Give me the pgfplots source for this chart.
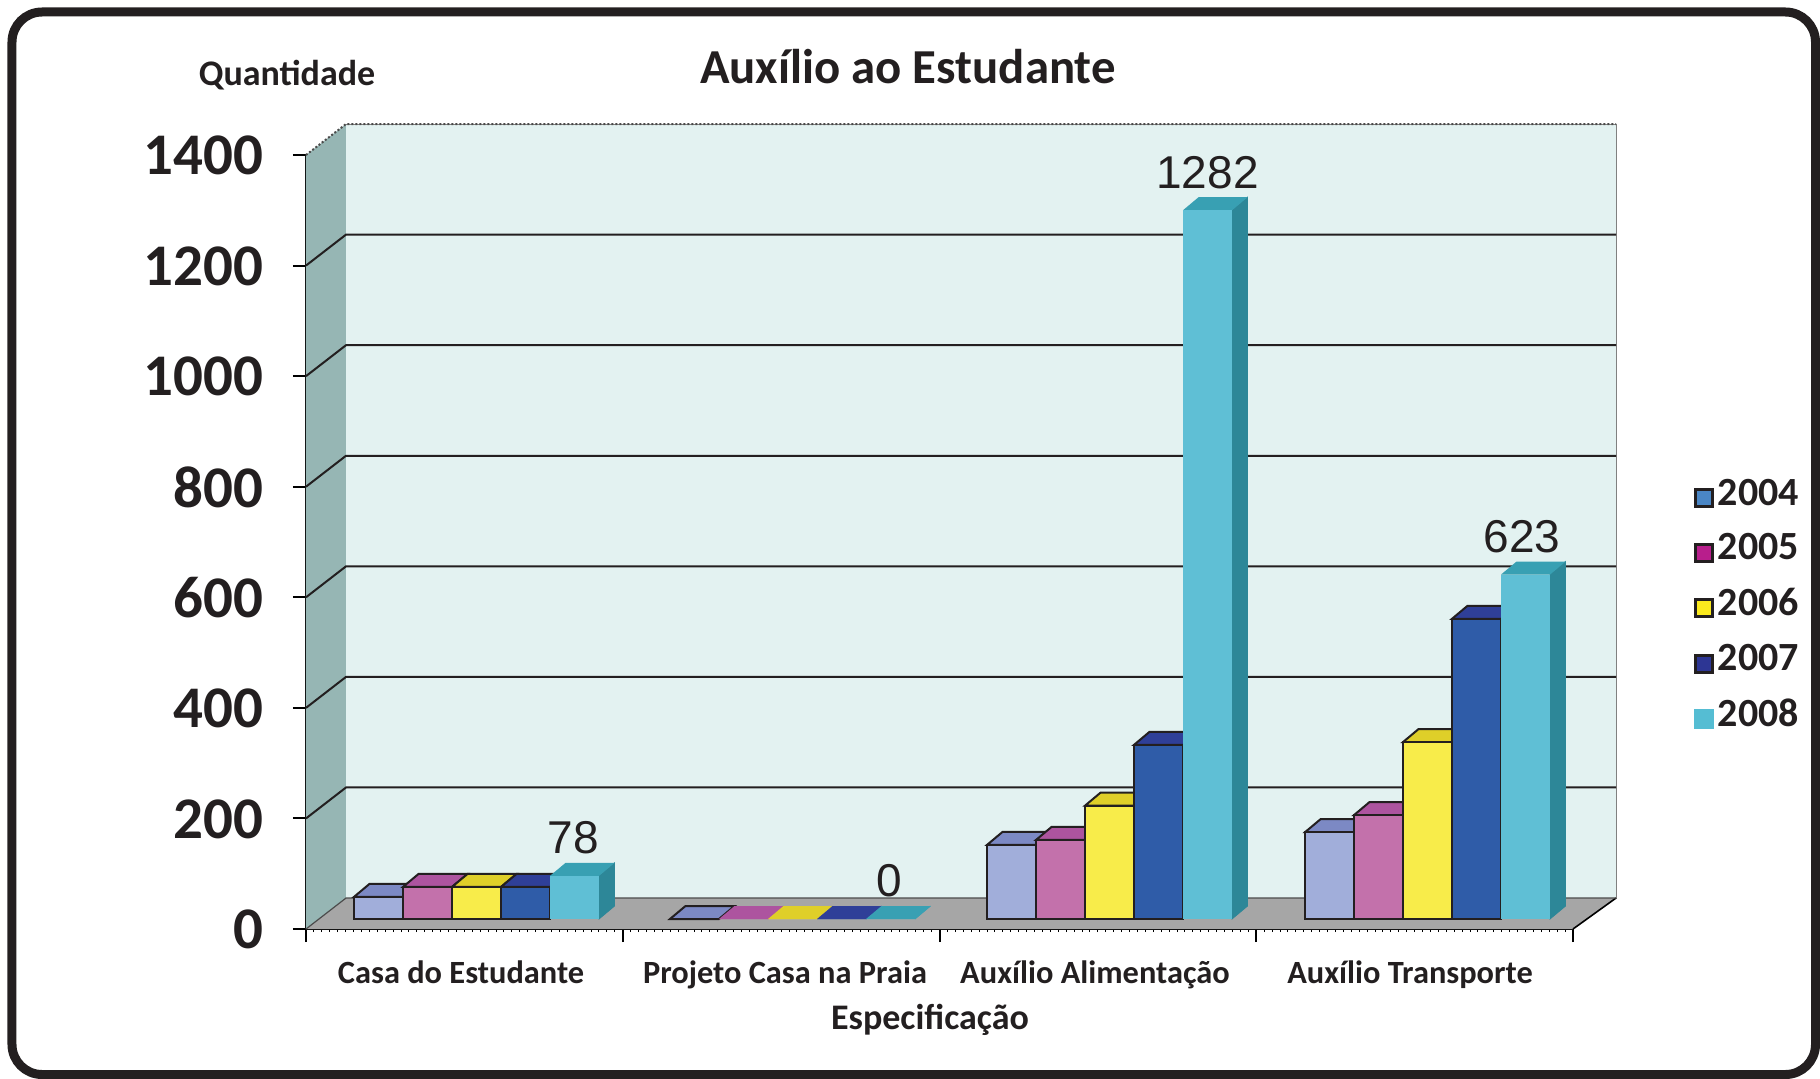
\documentclass[border=0pt]{standalone}
\usepackage{fontspec}
\setmainfont{Carlito}
\newfontfamily\valfont{Liberation Sans}
\usepackage{pgfplots}
\pgfplotsset{compat=1.18}
\definecolor{wallback}{HTML}{E3F2F1}
\definecolor{wallside}{HTML}{96B6B4}
\definecolor{floorc}{HTML}{A6A6A6}
\definecolor{fa}{HTML}{A1AEDA}\definecolor{ta}{HTML}{7C89C4}
\definecolor{fb}{HTML}{C371AB}\definecolor{tb}{HTML}{AD549F}
\definecolor{fc}{HTML}{F8EC4A}\definecolor{tc}{HTML}{DFCF29}
\definecolor{fd}{HTML}{2F5CA8}\definecolor{td}{HTML}{2F3F98}
\definecolor{fe}{HTML}{5FBFD5}\definecolor{te}{HTML}{38A0B3}\definecolor{se}{HTML}{2D8798}
\definecolor{la}{HTML}{4A86C5}\definecolor{lb}{HTML}{B81E8C}
\definecolor{lc}{HTML}{FBEA1E}\definecolor{ld}{HTML}{2D3694}\definecolor{le}{HTML}{55BDD3}
\definecolor{ink}{HTML}{231F20}
% x (pixels), value, front, top, side, outline
\newcommand{\threedbar}[6]{%
  \pgfmathsetmacro{\xr}{#1+49}%
  \pgfmathsetmacro{\xbl}{#1+15.5}%
  \pgfmathsetmacro{\xbr}{#1+64.5}%
  \pgfmathsetmacro{\yb}{#2+23.5}%
  \pgfmathsetmacro{\yz}{23.5}%
  \edef\tmp{\noexpand\addplot[forget plot,fill=#5,draw=#5] coordinates {(\xr,0)(\xbr,\yz)(\xbr,\yb)(\xr,#2)} -- cycle;}\tmp
  \edef\tmp{\noexpand\addplot[forget plot,fill=#4,draw=#6,line width=1pt] coordinates {(#1,#2)(\xbl,\yb)(\xbr,\yb)(\xr,#2)} -- cycle;}\tmp
  \edef\tmp{\noexpand\addplot[forget plot,fill=#3,draw=#6,line width=1pt] coordinates {(#1,0)(#1,#2)(\xr,#2)(\xr,0)} -- cycle;}\tmp
}
\begin{document}
\begin{tikzpicture}[x=1pt,y=1pt]
\useasboundingbox (-153,-74.5) rectangle (757,464.5);
\begin{axis}[
  at={(0pt,0pt)},anchor=south west,
  scale only axis,width=633.5pt,height=387pt,
  xmin=306,xmax=1573,ymin=0,ymax=1400,clip=false,
  axis y line=left,axis x line=bottom,
  axis line style={-,black,line width=1pt},
  tick style={black,line width=1pt},
  tick align=outside,
  major tick length=6.5pt,minor tick length=1.5pt,
  ytick={0,200,400,600,800,1000,1200,1400},
  xtick={306,622.75,939.5,1256.25,1573},
  xticklabels={},
  minor x tick num=39,
  minor tick style={line width=0.5pt},
  extra x ticks={461,785,1095,1410},
  extra x tick labels={Casa do Estudante,Projeto Casa na Praia,Auxílio Alimentação,Auxílio Transporte},
  extra x tick style={major tick length=0pt,tick style={draw=none},
    tick label style={font=\fontsize{16.2}{18}\bfseries\selectfont,text=ink,yshift=-12.5pt}},
  /pgf/number format/assume math mode=true,
  /pgf/number format/1000 sep={},
  y tick label style={font=\fontsize{29.5}{30}\bfseries\selectfont,text=ink,xshift=-11.5pt,yshift=-0.3pt},
  title={Auxílio ao Estudante},
  title style={at={(axis description cs:0.475,1.099)},anchor=center,font=\fontsize{24.4}{28}\bfseries\selectfont,text=ink},
  xlabel={Especificação},
  xlabel style={at={(axis description cs:0.4925,-0.118)},anchor=center,font=\fontsize{18}{20}\bfseries\selectfont,text=ink},
  ylabel={Quantidade},
  ylabel style={at={(axis description cs:-0.015,1.103)},anchor=center,rotate=-90,font=\fontsize{18}{20}\bfseries\selectfont,text=ink},
]
\addplot[forget plot,fill=wallback,draw=gray,line width=0.5pt] coordinates {(346,56)(346,1456)(1616,1456)(1616,56)} -- cycle;
\addplot[forget plot,fill=wallside,draw=none] coordinates {(306,0)(306,1400)(346,1456)(346,56)} -- cycle;
\addplot[forget plot,fill=floorc,draw=none] coordinates {(306,0)(346,56)(1616,56)(1573,0)} -- cycle;
\addplot[forget plot,black,line width=0.8pt] coordinates {(1573,0)(1616,56)};
\addplot[forget plot,black!70,densely dotted,line width=1pt] coordinates {(306,1400)(346,1456)(1616,1456)};
\addplot[forget plot,black!70,line width=0.6pt] coordinates {(306,0)(346,56)(1616,56)};
\addplot[forget plot,ink,line width=1pt] coordinates {(306,200)(346,256)(1616,256)};
\addplot[forget plot,ink,line width=1pt] coordinates {(306,400)(346,456)(1616,456)};
\addplot[forget plot,ink,line width=1pt] coordinates {(306,600)(346,656)(1616,656)};
\addplot[forget plot,ink,line width=1pt] coordinates {(306,800)(346,856)(1616,856)};
\addplot[forget plot,ink,line width=1pt] coordinates {(306,1000)(346,1056)(1616,1056)};
\addplot[forget plot,ink,line width=1pt] coordinates {(306,1200)(346,1256)(1616,1256)};
\end{axis}
\begin{axis}[
  at={(0pt,0pt)},anchor=south west,
  scale only axis,width=633.5pt,height=387pt,
  xmin=306,xmax=1573,ymin=-18.09,ymax=1381.91,clip=false,
  axis lines=none,
  legend style={at={(axis cs:1693.5,804)},anchor=north west,draw=none,fill=none,
    font=\fontsize{20}{22}\bfseries\selectfont,text=ink,
    inner sep=0pt,row sep=8.8pt,
    /tikz/every even column/.style={column sep=5pt}},
  legend cell align=left,
  legend image code/.code={\draw[#1,line width=1.5pt] (0.75pt,-6.5pt) rectangle (9.25pt,2pt);},
]
\addlegendimage{fill=la,draw=ink}\addlegendentry{2004}
\addlegendimage{fill=lb,draw=ink}\addlegendentry{2005}
\addlegendimage{fill=lc,draw=ink}\addlegendentry{2006}
\addlegendimage{fill=ld,draw=ink}\addlegendentry{2007}
\addlegendimage{fill=le,draw=le}\addlegendentry{2008}
% Casa do Estudante
\threedbar{354}{40}{fa}{ta}{ta}{ink}
\threedbar{403}{58}{fb}{tb}{tb}{ink}
\threedbar{452}{58}{fc}{tc}{tc}{ink}
\threedbar{501}{58}{fd}{td}{td}{ink}
\threedbar{550}{78}{fe}{te}{se}{none}
% Projeto Casa na Praia
\threedbar{670}{0}{fa}{ta}{ta}{ink}
\threedbar{719}{0}{fb}{tb}{tb}{none}
\threedbar{768}{0}{fc}{tc}{tc}{none}
\threedbar{817}{0}{fd}{td}{td}{none}
\threedbar{866}{0}{fe}{te}{te}{none}
% Auxilio Alimentacao
\threedbar{987}{134}{fa}{ta}{ta}{ink}
\threedbar{1036}{143}{fb}{tb}{tb}{ink}
\threedbar{1085}{205}{fc}{tc}{tc}{ink}
\threedbar{1134}{315}{fd}{td}{td}{ink}
\threedbar{1183}{1282}{fe}{te}{se}{none}
% Auxilio Transporte
\threedbar{1305}{157}{fa}{ta}{ta}{ink}
\threedbar{1354}{188}{fb}{tb}{tb}{ink}
\threedbar{1403}{320}{fc}{tc}{tc}{ink}
\threedbar{1452}{543}{fd}{td}{td}{ink}
\threedbar{1501}{623}{fe}{te}{se}{none}
% value labels
\addplot[forget plot,draw=none,mark=none,
  nodes near coords,point meta=y,
  /pgf/number format/1000 sep={},
  /pgf/number format/assume math mode=true,
  /pgf/number format/precision=0,/pgf/number format/fixed,
  nodes near coords style={anchor=center,yshift=19pt,text=ink,font=\valfont\fontsize{23}{26}\selectfont}]
  coordinates {(573.5,78)(889.5,0)(1207.5,1282)(1522,623)};
\end{axis}
\draw[ink,line width=4.5pt,rounded corners=15pt] (-147,-72.75) rectangle (754.75,458.5);
\end{tikzpicture}
\end{document}
